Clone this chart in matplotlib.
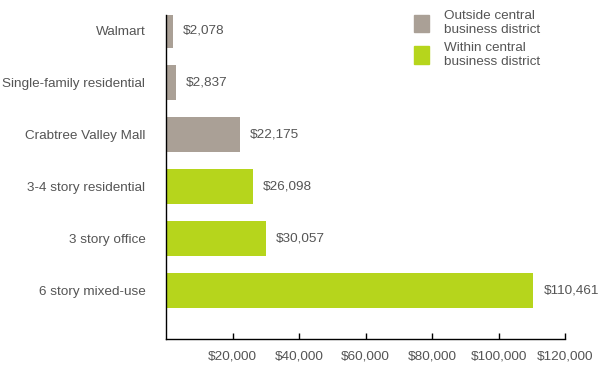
import matplotlib.pyplot as plt
from matplotlib.patches import Patch

categories = ["Walmart", "Single-family residential", "Crabtree Valley Mall",
              "3-4 story residential", "3 story office", "6 story mixed-use"]
values = [2078, 2837, 22175, 26098, 30057, 110461]
within_cbd = [False, False, False, True, True, True]
ticks = [20000, 40000, 60000, 80000, 100000, 120000]

gray = "#aaa096"
green = "#b6d51c"
text_col = "#555555"

plt.rcParams['font.family'] = ['Liberation Sans', 'DejaVu Sans']
fs = 9.7

fig = plt.figure(figsize=(6, 3.66), dpi=100)
ax = fig.add_axes([0.277, 0.074, 0.665, 0.885])

colors = [green if w else gray for w in within_cbd]
ypos = list(range(len(categories)))
ax.barh(ypos, values, height=0.67, color=colors)

for y, v in zip(ypos, values):
    ax.text(v + 3000, y, "${:,}".format(v), va="center", ha="left",
            fontsize=fs, color=text_col)

ax.set_xlim(0, 120000)
ax.set_ylim(5.92, -0.29)
ax.set_yticks(ypos)
ax.set_yticklabels(categories, fontsize=fs, color=text_col)
ax.tick_params(axis="y", length=0, pad=15)
ax.set_xticks(ticks)
ax.set_xticklabels(["${:,}".format(t) for t in ticks], fontsize=fs, color=text_col)
ax.tick_params(axis="x", direction="in", length=4.5, width=1, pad=8, color="black")

for s in ["top", "right"]:
    ax.spines[s].set_visible(False)
for s in ["left", "bottom"]:
    ax.spines[s].set_color("black")
    ax.spines[s].set_linewidth(1)

handles = [Patch(color=gray, label="Outside central\nbusiness district"),
           Patch(color=green, label="Within central\nbusiness district")]
leg = fig.legend(handles=handles, loc="upper left", bbox_to_anchor=(0.67, 1.005),
                 frameon=False, fontsize=fs, handlelength=1.1, handleheight=1.6,
                 handletextpad=1.1, labelspacing=0.45)
for t in leg.get_texts():
    t.set_color(text_col)

fig.savefig("out.png", dpi=100)
